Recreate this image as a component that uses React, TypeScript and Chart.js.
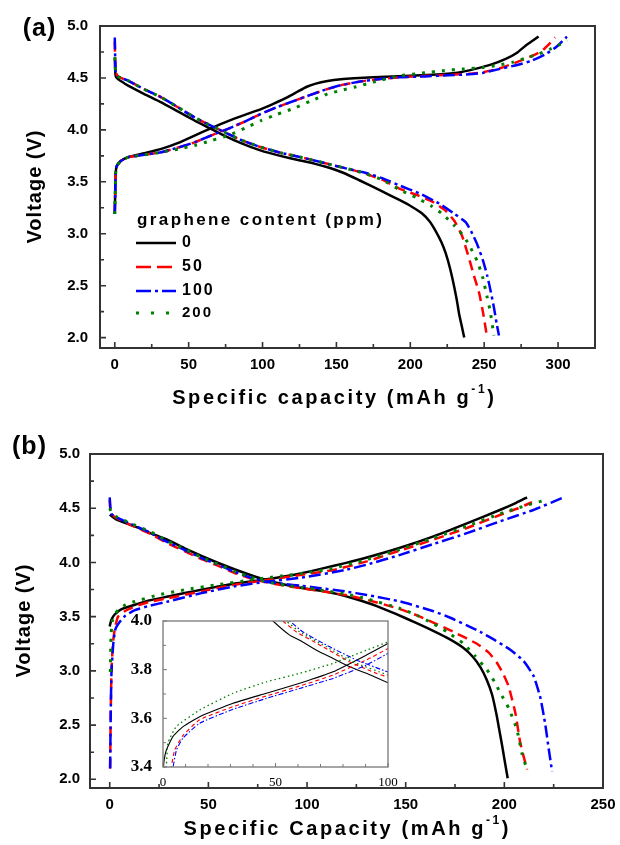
import React, { useEffect, useRef } from "react";
import { Chart, registerables } from "chart.js";

Chart.register(...registerables);

type Pt = [number, number];

// ---------- (a) specific capacity (mAh g-1) vs voltage (V) ----------
const aCharge0: Pt[] = [[0,3.19],[0.3,3.4],[0.6,3.58],[1.3,3.65],[4,3.7],[9,3.737],[20,3.775],[31.5,3.817],[43,3.875],[54,3.945],[65,4.015],[76.6,4.085],[88,4.145],[99,4.2],[108,4.255],[117,4.315],[124,4.37],[130,4.415],[136,4.445],[144,4.47],[153,4.488],[162,4.498],[175,4.507],[192,4.516],[215,4.53],[232,4.55],[244,4.587],[255,4.63],[264.6,4.683],[272,4.74],[278,4.81],[283,4.86],[286.8,4.9]];
const aCharge50: Pt[] = [[0,3.19],[0.3,3.4],[0.6,3.58],[1.3,3.65],[4,3.7],[9,3.737],[20,3.76],[31.5,3.785],[43,3.83],[54,3.88],[65,3.945],[76.6,4.01],[88,4.08],[99,4.154],[110,4.22],[121.6,4.28],[133,4.34],[144,4.394],[153,4.43],[162,4.455],[170,4.474],[181,4.492],[192.6,4.506],[210,4.52],[226,4.53],[240,4.54],[249,4.554],[260,4.59],[269,4.635],[282,4.71],[289,4.76],[295,4.84],[298,4.89]];
const aCharge100: Pt[] = [[0,3.19],[0.3,3.4],[0.6,3.58],[1.3,3.65],[4,3.7],[9,3.737],[20,3.76],[31.5,3.785],[43,3.83],[54,3.88],[65,3.945],[76.6,4.01],[88,4.08],[99,4.154],[110,4.22],[121.6,4.28],[133,4.34],[144,4.394],[153,4.43],[162,4.455],[170,4.474],[181,4.492],[192.6,4.506],[210,4.515],[226,4.525],[240,4.535],[249,4.548],[260,4.585],[271,4.62],[282,4.665],[291.7,4.73],[299,4.8],[306,4.897]];
const aCharge200: Pt[] = [[0,3.19],[0.3,3.4],[0.6,3.58],[1.3,3.65],[4,3.7],[9,3.737],[20,3.76],[31.5,3.785],[43,3.815],[54,3.85],[65,3.895],[76.6,3.945],[88,4.015],[99,4.09],[110,4.15],[121.6,4.21],[133,4.28],[144,4.346],[153,4.38],[162,4.41],[175,4.46],[192.6,4.52],[210,4.55],[222,4.57],[235,4.585],[249,4.6],[260,4.625],[269,4.65],[280,4.7],[287,4.73],[295,4.78],[301,4.82],[306,4.865]];

const aDischarge0: Pt[] = [[0,4.686],[0.2,4.6],[0.6,4.52],[2,4.49],[4,4.47],[9,4.426],[20,4.345],[31.5,4.265],[43,4.175],[54,4.09],[63,4.025],[72,3.96],[85,3.875],[99,3.8],[112,3.75],[125.5,3.705],[135,3.675],[144,3.64],[155,3.585],[165.5,3.515],[180,3.415],[192.6,3.325],[201,3.26],[208,3.195],[213,3.12],[217,3.03],[221,2.92],[224,2.81],[227,2.66],[229.7,2.49],[231.5,2.36],[233,2.23],[235,2.1],[236.5,2.0]];
const aDischarge50: Pt[] = [[0,4.85],[0.2,4.72],[0.6,4.56],[2,4.515],[4,4.5],[9,4.474],[20,4.39],[31.5,4.313],[43,4.215],[54,4.12],[63,4.055],[72,3.993],[85,3.905],[99,3.833],[112,3.78],[126,3.737],[144,3.673],[162,3.61],[170,3.577],[181,3.52],[192.6,3.435],[206,3.365],[216,3.3],[224,3.22],[230,3.12],[235,2.98],[239,2.8],[243,2.6],[246.6,2.43],[249.5,2.22],[252,2.0]];
const aDischarge100: Pt[] = [[0,4.89],[0.2,4.75],[0.6,4.56],[2,4.515],[4,4.5],[9,4.474],[20,4.39],[31.5,4.313],[43,4.215],[54,4.12],[63,4.055],[72,3.993],[85,3.905],[99,3.833],[112,3.78],[126,3.737],[144,3.673],[162,3.61],[170,3.585],[181,3.535],[192.6,3.465],[206,3.39],[219.6,3.29],[230,3.19],[237.6,3.11],[242,3.0],[245.5,2.89],[249,2.75],[252,2.6],[254.5,2.44],[256.6,2.29],[258.5,2.13],[260,2.02]];
const aDischarge200: Pt[] = [[0,4.7],[0.2,4.65],[0.6,4.55],[2,4.515],[4,4.5],[9,4.474],[20,4.39],[31.5,4.313],[43,4.215],[54,4.12],[63,4.055],[72,3.993],[85,3.905],[99,3.833],[112,3.78],[126,3.737],[144,3.673],[162,3.61],[170,3.577],[181,3.52],[192.6,3.425],[203.8,3.35],[214,3.27],[221.8,3.19],[229.7,3.08],[236.5,2.97],[241,2.86],[245.5,2.73],[249,2.58],[252,2.39],[254,2.26],[256.6,2.02]];

// ---------- (b) specific capacity (mAh g-1) vs voltage (V) ----------
const bCharge0: Pt[] = [[0,3.41],[0.8,3.47],[2.5,3.52],[6,3.57],[12.7,3.61],[20,3.65],[29.6,3.686],[38,3.718],[46.5,3.748],[55,3.778],[63.5,3.805],[72,3.826],[80.4,3.848],[89,3.872],[97.3,3.9],[108,3.945],[119.3,3.994],[130.3,4.045],[147.2,4.135],[164.1,4.24],[181,4.36],[198,4.486],[206,4.55],[211.5,4.6]];
const bCharge50: Pt[] = [[0.2,2.1],[0.5,2.6],[0.9,3.0],[1.6,3.25],[2.5,3.38],[4.2,3.5],[8,3.555],[12.7,3.594],[20,3.635],[29.6,3.67],[46.5,3.733],[63.5,3.795],[80.4,3.84],[97.3,3.886],[113.4,3.93],[130.3,4.01],[147.2,4.11],[164,4.21],[181,4.317],[198,4.44],[207,4.5],[214,4.555]];
const bCharge100: Pt[] = [[0.2,2.1],[0.5,2.6],[0.9,3.0],[1.8,3.25],[2.8,3.38],[5,3.45],[8,3.51],[12.7,3.56],[20,3.6],[29.6,3.64],[46.5,3.717],[63.5,3.78],[80.4,3.825],[97.3,3.86],[119.3,3.93],[130.3,3.98],[147.2,4.07],[164.1,4.17],[181,4.27],[198,4.38],[215,4.486],[229.3,4.594]];
const bCharge200: Pt[] = [[0.3,2.99],[0.6,3.3],[1.2,3.45],[2.5,3.52],[4.2,3.56],[8,3.61],[12.7,3.64],[24.5,3.7],[37.9,3.748],[54.8,3.795],[71.9,3.84],[85,3.87],[100,3.905],[113,3.945],[130,4.025],[147,4.12],[164,4.225],[181,4.335],[198,4.45],[210,4.52],[219.8,4.57]];

const bDischarge0: Pt[] = [[0,4.44],[3,4.4],[12.7,4.332],[20,4.275],[29.6,4.205],[38,4.13],[46.5,4.06],[55,3.995],[63.5,3.935],[72,3.88],[80.4,3.832],[89,3.795],[97.3,3.765],[107,3.738],[115,3.71],[125,3.66],[135,3.6],[145,3.525],[155,3.445],[165,3.36],[172,3.295],[179,3.215],[184,3.13],[188,3.03],[191,2.92],[193.8,2.78],[196,2.6],[197.3,2.47],[198.6,2.34],[199.9,2.2],[201.7,2.01]];
const bDischarge50: Pt[] = [[0,4.58],[0.3,4.5],[1,4.445],[2.5,4.42],[10,4.35],[21,4.26],[29,4.18],[37.9,4.105],[46,4.035],[54.8,3.97],[63,3.905],[71.9,3.85],[80,3.815],[88.8,3.785],[97,3.762],[105.7,3.74],[119.3,3.7],[130.3,3.656],[147.2,3.57],[156,3.51],[164,3.445],[174.2,3.36],[186.1,3.25],[192,3.17],[196.3,3.072],[199.5,2.97],[202.2,2.856],[205.6,2.61],[208.1,2.334],[211.5,2.09]];
const bDischarge100: Pt[] = [[0,4.6],[0.3,4.5],[1,4.445],[2.5,4.424],[10,4.36],[21,4.27],[29,4.19],[37.9,4.117],[46,4.045],[54.8,3.98],[63,3.915],[71.9,3.856],[80,3.82],[88.8,3.8],[97,3.785],[105.7,3.765],[119.3,3.733],[130.3,3.7],[147.2,3.64],[164.1,3.55],[172.6,3.49],[181,3.42],[187.8,3.36],[194.6,3.29],[203,3.195],[209.8,3.09],[214.9,2.95],[218.3,2.75],[220.8,2.5],[222.5,2.28],[224.2,2.072]];
const bDischarge200: Pt[] = [[0,4.5],[1,4.45],[3,4.425],[10,4.365],[21,4.28],[29,4.2],[37.9,4.125],[46,4.05],[54.8,3.985],[63,3.92],[71.9,3.86],[80,3.82],[88.8,3.79],[97,3.77],[105.7,3.75],[119.3,3.71],[130.3,3.665],[147.2,3.575],[156,3.51],[164,3.435],[171,3.36],[179.4,3.25],[185,3.14],[191.2,3.01],[195,2.9],[198,2.795],[202.2,2.657],[206.4,2.457],[208.9,2.24],[211.5,2.09]];

// ---------- inset of (b): 0-100 mAh g-1, 3.4-4.0 V ----------
const iCharge0: Pt[] = [[0,3.36],[0.4,3.42],[1.5,3.47],[4.4,3.525],[8.9,3.566],[16.3,3.607],[31.1,3.662],[46,3.703],[60.8,3.744],[75.6,3.791],[90.4,3.86],[100,3.908]];
const iCharge50: Pt[] = [[3.3,3.36],[3.7,3.4],[5.2,3.47],[8.9,3.53],[16.3,3.594],[31.1,3.648],[46,3.692],[60.8,3.733],[75.6,3.778],[90.4,3.84],[100,3.887]];
const iCharge100: Pt[] = [[4.1,3.36],[4.5,3.4],[6,3.47],[8.9,3.519],[16.3,3.58],[31.1,3.637],[46,3.682],[60.8,3.723],[75.6,3.764],[90.4,3.819],[100,3.867]];
const iCharge200: Pt[] = [[1.2,3.36],[1.5,3.4],[2.2,3.498],[5.9,3.566],[16.3,3.634],[31.1,3.703],[46,3.75],[60.8,3.785],[75.6,3.826],[90.4,3.88],[100,3.914]];
const iDischarge0: Pt[] = [[46,4.03],[48.9,4.0],[56.3,3.942],[60.8,3.921],[68.2,3.88],[75.6,3.846],[83,3.812],[90.4,3.785],[100,3.746]];
const iDischarge50: Pt[] = [[51,4.02],[53.3,4.0],[59.3,3.955],[71.1,3.894],[83,3.832],[94.8,3.785],[100,3.77]];
const iDischarge100: Pt[] = [[54,4.02],[56.3,4.0],[62.2,3.955],[74.1,3.894],[85.9,3.84],[100,3.79]];
const iDischarge200: Pt[] = [[52.5,4.02],[54.8,4.0],[60.8,3.955],[72.6,3.894],[84.4,3.832],[100,3.778]];

// graphene content (ppm) of each series
const contentLabels = ["0", "50", "100", "200"];

// tick values
const aXTicks = [0, 50, 100, 150, 200, 250, 300];
const aXMinor = [25, 75, 125, 175, 225, 275];
const bXTicks = [0, 50, 100, 150, 200, 250];
const bXMinor = [25, 75, 125, 175, 225];
const voltTicks = [2.0, 2.5, 3.0, 3.5, 4.0, 4.5, 5.0];
const voltMinor = [2.25, 2.75, 3.25, 3.75, 4.25, 4.75];
const insetXTicks = [0, 50, 100];
const insetXMinor = [10, 20, 30, 40, 60, 70, 80, 90];
const insetYTicks = [3.4, 3.6, 3.8, 4.0];
const insetYMinor = [3.5, 3.7, 3.9];

// line styles per series
const seriesColor = ["#000000", "#ff0000", "#0000ff", "#008000"];
const mainDash: number[][] = [[], [10, 6], [12, 4, 3, 4], [3, 7]];
const mainWidth = [2.5, 2.5, 2.5, 3];
const insetDash: number[][] = [[], [4, 3], [5, 2, 1.5, 2], [1.5, 3]];
const insetWidth = [1.1, 1.1, 1.1, 1.3];
const legendDash: number[][] = [[], [15, 6], [15, 4, 3, 4], [3, 12]];

const SANS = "'Liberation Sans', Arial, sans-serif";
const SERIF = "'Liberation Serif', 'Times New Roman', serif";

type Seg = { t: string; font: string; dy?: number };
type TextItem = { segs: Seg[]; x: number; y: number; spacing: number; rotate?: boolean; align?: "center" | "left" };

function drawText(ctx: CanvasRenderingContext2D, it: TextItem) {
  ctx.save();
  (ctx as any).letterSpacing = it.spacing + "px";
  ctx.textBaseline = "middle";
  ctx.textAlign = "left";
  ctx.fillStyle = "#000";
  let total = 0;
  const widths = it.segs.map((s) => {
    ctx.font = s.font;
    const w = ctx.measureText(s.t).width;
    total += w;
    return w;
  });
  total -= it.spacing;
  ctx.translate(it.x, it.y);
  if (it.rotate) ctx.rotate(-Math.PI / 2);
  let x = it.align === "left" ? 0 : -total / 2;
  it.segs.forEach((s, i) => {
    ctx.font = s.font;
    ctx.fillText(s.t, x, s.dy || 0);
    x += widths[i];
  });
  ctx.restore();
}

const textPlugin = (id: string, items: TextItem[]) => ({
  id,
  afterDraw(chart: any) {
    items.forEach((it) => drawText(chart.ctx, it));
  },
});

// frame around the plot area plus inward major/minor ticks on bottom and left
const framePlugin = (o: {
  xMajor: number[]; xMinor: number[]; yMajor: number[]; yMinor: number[];
  major: number; minor: number; color: string; tickWidth: number; frameWidth: number; fillWhite?: boolean;
}) => ({
  id: "frameTicks",
  beforeDatasetsDraw(chart: any) {
    if (!o.fillWhite) return;
    const { ctx, chartArea: a } = chart;
    ctx.save();
    ctx.fillStyle = "#ffffff";
    ctx.fillRect(a.left, a.top, a.right - a.left, a.bottom - a.top);
    ctx.restore();
  },
  afterDatasetsDraw(chart: any) {
    const { ctx, chartArea: a, scales } = chart;
    const sx = scales.x, sy = scales.y;
    ctx.save();
    ctx.strokeStyle = o.color;
    ctx.lineWidth = o.tickWidth;
    ctx.beginPath();
    const xt = (vals: number[], len: number) => vals.forEach((v) => {
      const p = sx.getPixelForValue(v);
      ctx.moveTo(p, a.bottom);
      ctx.lineTo(p, a.bottom - len);
    });
    const yt = (vals: number[], len: number) => vals.forEach((v) => {
      const p = sy.getPixelForValue(v);
      ctx.moveTo(a.left, p);
      ctx.lineTo(a.left + len, p);
    });
    xt(o.xMajor, o.major); xt(o.xMinor, o.minor);
    yt(o.yMajor, o.major); yt(o.yMinor, o.minor);
    ctx.stroke();
    ctx.lineWidth = o.frameWidth;
    ctx.strokeRect(a.left, a.top, a.right - a.left, a.bottom - a.top);
    ctx.restore();
  },
});

const toXY = (pts: Pt[]) => pts.map(([x, y]) => ({ x, y }));

function lineSet(pts: Pt[], k: number, widths: number[], dashes: number[][]) {
  return {
    data: toXY(pts),
    borderColor: seriesColor[k],
    borderWidth: widths[k],
    borderDash: dashes[k],
    borderCapStyle: "butt",
    borderJoinStyle: "round",
    pointRadius: 0,
    fill: false,
    tension: 0.15,
    order: 3 - k,
    clip: 0,
  };
}

function axes(o: {
  xMin: number; xMax: number; yMin: number; yMax: number; xTicks: number[]; yTicks: number[];
  xH: number; yW: number; xFont: any; yFont: any; xPad: number; yPad: number; yDigits: number;
}) {
  return {
    x: {
      type: "linear",
      min: o.xMin,
      max: o.xMax,
      grid: { display: false },
      border: { display: false },
      afterBuildTicks: (s: any) => { s.ticks = o.xTicks.map((v) => ({ value: v })); },
      afterFit: (s: any) => { s.height = o.xH; },
      ticks: { font: o.xFont, color: "#000", padding: o.xPad, autoSkip: false, maxRotation: 0, callback: (v: any) => String(v) },
    },
    y: {
      type: "linear",
      min: o.yMin,
      max: o.yMax,
      grid: { display: false },
      border: { display: false },
      afterBuildTicks: (s: any) => { s.ticks = o.yTicks.map((v) => ({ value: v })); },
      afterFit: (s: any) => { s.width = o.yW; },
      ticks: { font: o.yFont, color: "#000", padding: o.yPad, autoSkip: false, callback: (v: any) => Number(v).toFixed(o.yDigits) },
    },
  };
}

const baseOptions = {
  responsive: false,
  animation: false,
  devicePixelRatio: 1,
  plugins: { legend: { display: false }, tooltip: { enabled: false }, title: { display: false } },
  events: [],
};

const titleFont = `bold 20px ${SANS}`;
const supFont = `bold 12px ${SANS}`;
const tickFont = { family: SANS, size: 15, weight: "bold" };

function configA(): any {
  const sets: any[] = [];
  [aCharge0, aCharge50, aCharge100, aCharge200].forEach((d, k) => sets.push(lineSet(d, k, mainWidth, mainDash)));
  [aDischarge0, aDischarge50, aDischarge100, aDischarge200].forEach((d, k) => sets.push(lineSet(d, k, mainWidth, mainDash)));

  const legendRows = [243, 267, 291, 313];
  const legendFonts = [`bold 16px ${SANS}`, `bold 16px ${SANS}`, `bold 16px ${SANS}`, `bold 15px ${SANS}`];
  const legendPlugin = {
    id: "contentLegend",
    afterDraw(chart: any) {
      const ctx = chart.ctx;
      drawText(ctx, { segs: [{ t: "graphene content (ppm)", font: `bold 17px ${SANS}` }], x: 137, y: 220, spacing: 2.4, align: "left" });
      legendRows.forEach((y, k) => {
        ctx.save();
        ctx.strokeStyle = seriesColor[k];
        ctx.lineWidth = k === 3 ? 3 : 2.5;
        ctx.setLineDash(legendDash[k]);
        ctx.beginPath();
        ctx.moveTo(136, y);
        ctx.lineTo(176, y);
        ctx.stroke();
        ctx.restore();
        drawText(ctx, { segs: [{ t: contentLabels[k], font: legendFonts[k] }], x: 182, y, spacing: 2, align: "left" });
      });
    },
  };

  return {
    type: "line",
    data: { datasets: sets },
    options: {
      ...baseOptions,
      layout: { padding: { left: 0, top: 26, right: 25, bottom: 0 } },
      scales: axes({ xMin: -10, xMax: 325, yMin: 1.9, yMax: 5.0, xTicks: aXTicks, yTicks: voltTicks, xH: 72, yW: 100, xFont: tickFont, yFont: tickFont, xPad: 0, yPad: 4, yDigits: 1 }),
    },
    plugins: [
      framePlugin({ xMajor: aXTicks, xMinor: aXMinor, yMajor: voltTicks, yMinor: voltMinor, major: 6, minor: 4, color: "#333", tickWidth: 1.6, frameWidth: 2 }),
      legendPlugin,
      textPlugin("panelTextA", [
        { segs: [{ t: "(a)", font: `bold 25px ${SANS}` }], x: 39, y: 29, spacing: 1 },
        { segs: [{ t: "Voltage (V)", font: titleFont }], x: 35, y: 187, spacing: 1, rotate: true },
        { segs: [{ t: "Specific capacity (mAh g", font: titleFont }, { t: "-1", font: supFont, dy: -8 }, { t: ")", font: titleFont }], x: 333, y: 398, spacing: 2.6 },
      ]),
    ],
  };
}

function configB(): any {
  const sets: any[] = [];
  [bCharge0, bCharge50, bCharge100, bCharge200].forEach((d, k) => sets.push(lineSet(d, k, mainWidth, mainDash)));
  [bDischarge0, bDischarge50, bDischarge100, bDischarge200].forEach((d, k) => sets.push(lineSet(d, k, mainWidth, mainDash)));
  return {
    type: "line",
    data: { datasets: sets },
    options: {
      ...baseOptions,
      layout: { padding: { left: 0, top: 34, right: 17, bottom: 0 } },
      scales: axes({ xMin: -10, xMax: 250, yMin: 1.92, yMax: 5.0, xTicks: bXTicks, yTicks: voltTicks, xH: 57, yW: 90, xFont: tickFont, yFont: tickFont, xPad: 0, yPad: 2, yDigits: 1 }),
    },
    plugins: [
      framePlugin({ xMajor: bXTicks, xMinor: bXMinor, yMajor: voltTicks, yMinor: voltMinor, major: 6, minor: 4, color: "#333", tickWidth: 1.6, frameWidth: 2 }),
      textPlugin("panelTextB", [
        { segs: [{ t: "(b)", font: `bold 25px ${SANS}` }], x: 29, y: 27, spacing: 1 },
        { segs: [{ t: "Voltage (V)", font: titleFont }], x: 24, y: 201, spacing: 1, rotate: true },
        { segs: [{ t: "Specific Capacity (mAh g", font: titleFont }, { t: "-1", font: supFont, dy: -8 }, { t: ")", font: titleFont }], x: 346, y: 409, spacing: 2.6 },
      ]),
    ],
  };
}

function configInset(): any {
  const sets: any[] = [];
  [iCharge0, iCharge50, iCharge100, iCharge200].forEach((d, k) => sets.push(lineSet(d, k, insetWidth, insetDash)));
  [iDischarge0, iDischarge50, iDischarge100, iDischarge200].forEach((d, k) => sets.push(lineSet(d, k, insetWidth, insetDash)));
  return {
    type: "line",
    data: { datasets: sets },
    options: {
      ...baseOptions,
      layout: { padding: { left: 0, top: 16, right: 12, bottom: 0 } },
      scales: axes({
        xMin: 0, xMax: 100, yMin: 3.4, yMax: 4.0, xTicks: insetXTicks, yTicks: insetYTicks, xH: 23, yW: 43,
        xFont: { family: SERIF, size: 13, weight: "normal" }, yFont: { family: SERIF, size: 17, weight: "bold" },
        xPad: 0, yPad: 3, yDigits: 1,
      }),
    },
    plugins: [
      framePlugin({ xMajor: insetXTicks, xMinor: insetXMinor, yMajor: insetYTicks, yMinor: insetYMinor, major: 4, minor: 3, color: "#777", tickWidth: 1, frameWidth: 1.3, fillWhite: true }),
    ],
  };
}

export default function App() {
  const refA = useRef<HTMLCanvasElement>(null);
  const refB = useRef<HTMLCanvasElement>(null);
  const refI = useRef<HTMLCanvasElement>(null);

  useEffect(() => {
    document.body.style.margin = "0";
    document.body.style.background = "#ffffff";
    const charts = [
      new Chart(refA.current as HTMLCanvasElement, configA()),
      new Chart(refB.current as HTMLCanvasElement, configB()),
      new Chart(refI.current as HTMLCanvasElement, configInset()),
    ];
    return () => charts.forEach((c) => c.destroy());
  }, []);

  return (
    <div style={{ position: "relative", width: 620, height: 845, background: "#ffffff", overflow: "hidden" }}>
      <canvas ref={refA} width={620} height={420} style={{ position: "absolute", left: 0, top: 0 }} />
      <canvas ref={refB} width={620} height={425} style={{ position: "absolute", left: 0, top: 420 }} />
      <canvas ref={refI} width={280} height={185} style={{ position: "absolute", left: 120, top: 605 }} />
    </div>
  );
}
